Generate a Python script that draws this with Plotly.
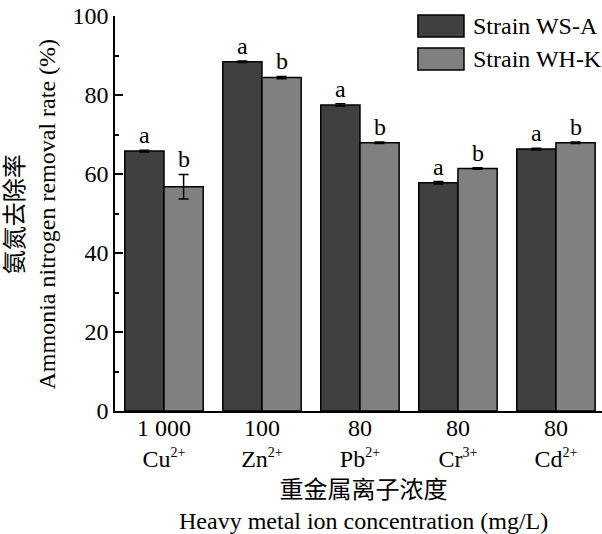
import plotly.graph_objects as go

# ---- data ----
concentrations = ["1 000", "100", "80", "80", "80"]
ion_symbols = ["Cu", "Zn", "Pb", "Cr", "Cd"]
ion_charges = ["2+", "2+", "2+", "3+", "2+"]
series_names = ["Strain WS-A", "Strain WH-K"]
ws_a = [65.8, 88.4, 77.5, 57.8, 66.3]
ws_a_err = [0.2, 0.2, 0.3, 0.3, 0.2]
wh_k = [56.8, 84.4, 67.9, 61.4, 67.9]
wh_k_err = [3.1, 0.3, 0.2, 0.2, 0.2]
letters_a = ["a", "a", "a", "a", "a"]
letters_b = ["b", "b", "b", "b", "b"]
y_title = "氨氮去除率<br>Ammonia nitrogen removal rate (%)"
x_title = "重金属离子浓度<br>Heavy metal ion concentration (mg/L)"

FONT = "Liberation Serif, Times New Roman, Noto Sans CJK SC, serif"
FS = 24
DARK = "#404040"
LIGHT = "#808080"

idx = list(range(len(ion_symbols)))
ticktext = [f"{c}<br>{s}<sup><span style='font-size:14px'>{q}</span></sup>"
            for c, s, q in zip(concentrations, ion_symbols, ion_charges)]

fig = go.Figure()
fig.add_trace(go.Bar(
    x=idx, y=ws_a, name=series_names[0],
    marker=dict(color=DARK, line=dict(color="black", width=1.5)),
    error_y=dict(type="data", array=ws_a_err, color="black", thickness=1.5, width=5),
    showlegend=False,
))
fig.add_trace(go.Bar(
    x=idx, y=wh_k, name=series_names[1],
    marker=dict(color=LIGHT, line=dict(color="black", width=1.5)),
    error_y=dict(type="data", array=wh_k_err, color="black", thickness=1.5, width=5),
    showlegend=False,
))

annotations = []
for i in idx:
    annotations.append(dict(x=i - 0.2, y=ws_a[i] + ws_a_err[i], xref="x", yref="y",
                            text=letters_a[i], showarrow=False, yanchor="bottom",
                            yshift=0, font=dict(family=FONT, size=FS, color="black")))
    annotations.append(dict(x=i + 0.2, y=wh_k[i] + wh_k_err[i], xref="x", yref="y",
                            text=letters_b[i], showarrow=False, yanchor="bottom",
                            yshift=0, font=dict(family=FONT, size=FS, color="black")))

# axis titles
annotations.append(dict(x=-0.1725, y=0.5, xref="paper", yref="paper", text=y_title,
                        textangle=-90, showarrow=False, xanchor="center", yanchor="middle",
                        font=dict(family=FONT, size=FS, color="black")))
annotations.append(dict(x=0.511, y=-0.238, xref="paper", yref="paper", text=x_title,
                        showarrow=False, xanchor="center", yanchor="middle",
                        font=dict(family=FONT, size=FS, color="black")))

# legend (custom boxes)
shapes = []
legend_rows = [(1.0025, 0.947, 0.975, DARK), (0.919, 0.863, 0.891, LIGHT)]
for name, (y1, y0, yc, col) in zip(series_names, legend_rows):
    shapes.append(dict(type="rect", xref="paper", yref="paper", x0=0.622, x1=0.7166,
                       y0=y0, y1=y1, fillcolor=col, line=dict(color="black", width=1.5)))
    annotations.append(dict(x=0.731, y=yc, xref="paper", yref="paper", text=name,
                            showarrow=False, xanchor="left", yanchor="middle",
                            font=dict(family=FONT, size=FS, color="black")))

fig.update_layout(
    width=602, height=534,
    margin=dict(l=115, r=0, t=16, b=123),
    paper_bgcolor="white", plot_bgcolor="white",
    barmode="group", bargap=0.2, bargroupgap=0,
    font=dict(family=FONT, size=FS, color="black"),
    annotations=annotations, shapes=shapes,
    showlegend=False,
)
fig.update_xaxes(
    range=[-0.5, 4.47], tickmode="array", tickvals=idx, ticktext=ticktext,
    showline=True, linecolor="black", linewidth=1.5, ticks="", showgrid=False,
    zeroline=False, tickfont=dict(family=FONT, size=FS, color="black"),
    ticklabelstandoff=-6,
)
fig.update_yaxes(
    range=[0, 100], tickvals=[0, 20, 40, 60, 80, 100],
    showline=True, linecolor="black", linewidth=1.5, ticks="inside", ticklen=8,
    tickwidth=1.5, tickcolor="black", showgrid=False, zeroline=False,
    minor=dict(tickvals=[10, 30, 50, 70, 90], ticks="inside", ticklen=4,
               tickwidth=1.5, tickcolor="black"),
    tickfont=dict(family=FONT, size=FS, color="black"),
)

fig.write_html("out.html", config={"displayModeBar": False},
               post_script="document.body.style.margin='0';document.body.style.overflow='hidden';")
